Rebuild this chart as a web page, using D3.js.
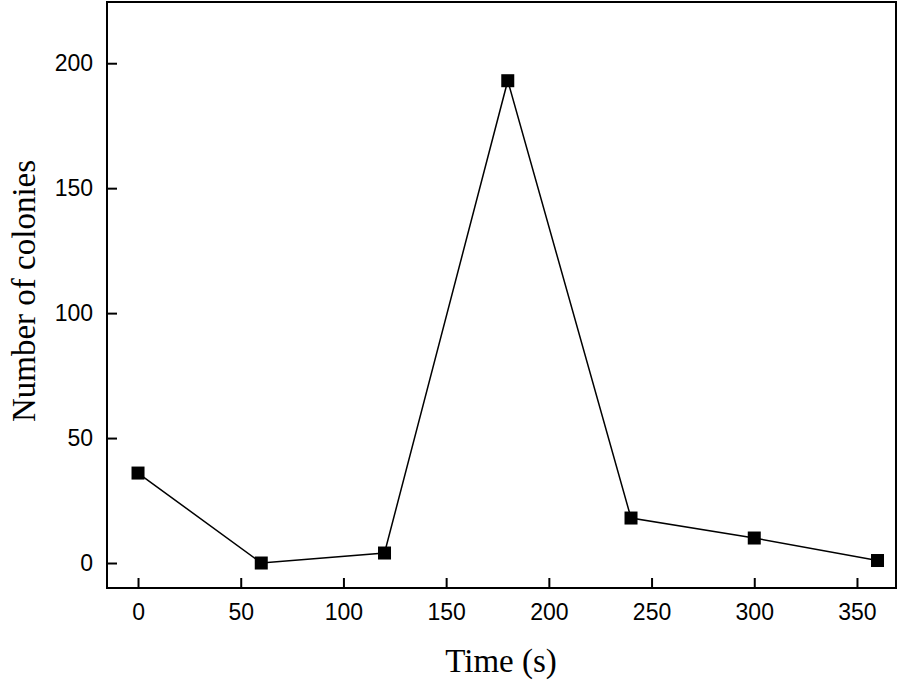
<!DOCTYPE html>
<html>
<head>
<meta charset="utf-8">
<script src="https://cdn.jsdelivr.net/npm/d3@7"></script>
<style>
  body { margin: 0; background: #fff; }
  svg { display: block; }
</style>
</head>
<body>
<script>
// values
var times = [0, 60, 120, 180, 240, 300, 360],
	colonies = [36, 0, 4, 193, 18, 10, 1],
	xTicks = [0, 50, 100, 150, 200, 250, 300, 350],
	yTicks = [0, 50, 100, 150, 200];

var width = 898,
	height = 682,
	plotLeft = 107,
	plotTop = 2,
	plotRight = 896,
	plotBottom = 588;

var svg = d3.select("body")
	.append("svg")
	.attr("width", width)
	.attr("height", height);

var x = d3.scaleLinear().domain([-15.1, 369]).range([plotLeft, plotRight]);
var y = d3.scaleLinear().domain([-10, 224.5]).range([plotBottom, plotTop]);

var data = times.map(function(t, i) { return { t: t, v: colonies[i] }; });

// axes, ticks pointing inward
var xAxis = svg.append("g")
	.attr("transform", "translate(0," + plotBottom + ")")
	.call(d3.axisBottom(x).tickValues(xTicks).tickSizeInner(-10).tickSizeOuter(0).tickPadding(16));

var yAxis = svg.append("g")
	.attr("transform", "translate(" + plotLeft + ",0)")
	.call(d3.axisLeft(y).tickValues(yTicks).tickSizeInner(-10).tickSizeOuter(0).tickPadding(14));

[xAxis, yAxis].forEach(function(g) {
	g.select(".domain").remove();
	g.selectAll(".tick line").attr("stroke", "#000").attr("stroke-width", 2);
	g.selectAll(".tick text")
		.attr("fill", "#000")
		.style("font-family", "'Liberation Sans', Arial, sans-serif")
		.style("font-size", "23px");
});

// frame
svg.append("rect")
	.attr("x", plotLeft)
	.attr("y", plotTop)
	.attr("width", plotRight - plotLeft)
	.attr("height", plotBottom - plotTop)
	.attr("fill", "none")
	.attr("stroke", "#000")
	.attr("stroke-width", 2);

var line = d3.line()
	.x(function(d) { return x(d.t); })
	.y(function(d) { return y(d.v); });

svg.append("path")
	.datum(data)
	.attr("d", line)
	.attr("fill", "none")
	.attr("stroke", "#000")
	.attr("stroke-width", 1.5);

var s = 13;
svg.selectAll(".pt")
	.data(data)
	.enter().append("rect")
	.attr("class", "pt")
	.attr("x", function(d) { return x(d.t) - s / 2; })
	.attr("y", function(d) { return y(d.v) - s / 2; })
	.attr("width", s)
	.attr("height", s)
	.attr("fill", "#000");

// axis titles
svg.append("text")
	.attr("x", 501)
	.attr("y", 672)
	.attr("text-anchor", "middle")
	.style("font-family", "'Liberation Serif', 'Times New Roman', serif")
	.style("font-size", "33px")
	.text("Time (s)");

svg.append("text")
	.attr("transform", "translate(35,291) rotate(-90)")
	.attr("text-anchor", "middle")
	.style("font-family", "'Liberation Serif', 'Times New Roman', serif")
	.style("font-size", "33px")
	.text("Number of colonies");
</script>
</body>
</html>
